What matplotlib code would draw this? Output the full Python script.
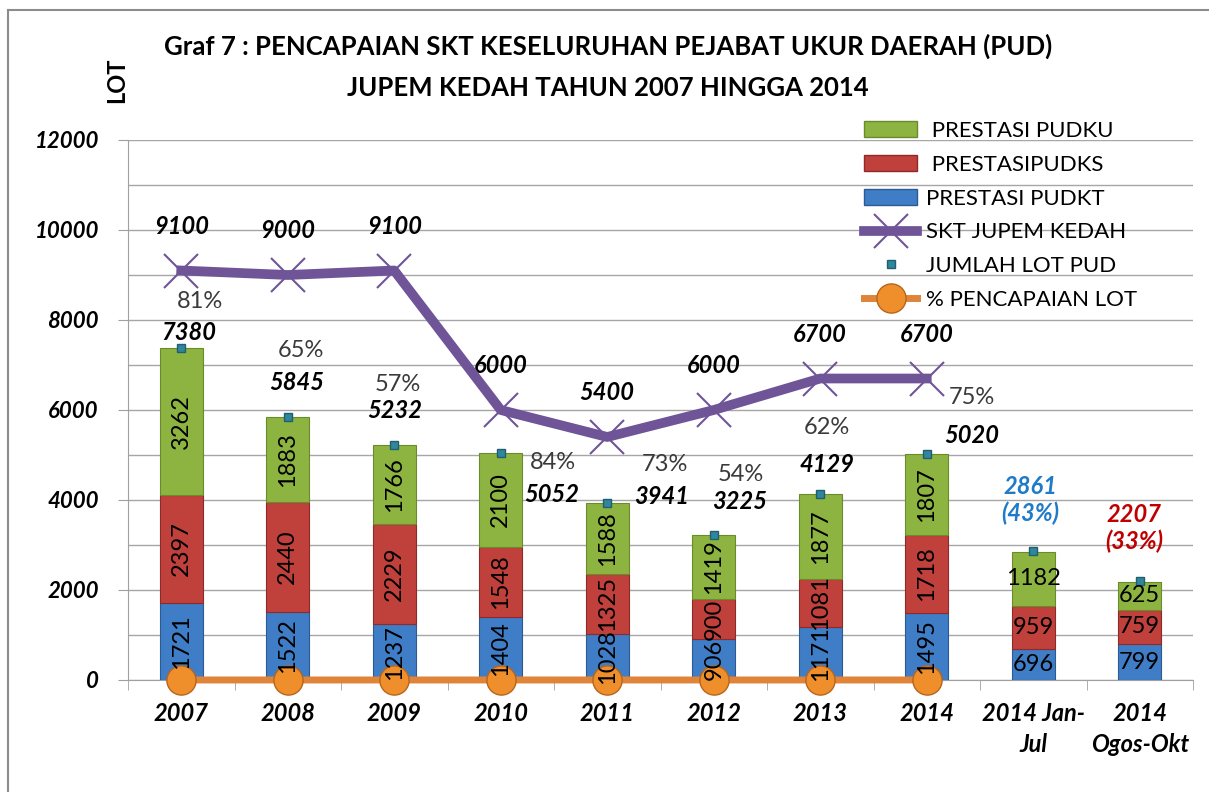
import matplotlib
matplotlib.use('Agg')
import matplotlib.pyplot as plt
import numpy as np
from matplotlib.lines import Line2D
from matplotlib.patches import Patch
from matplotlib.ticker import MultipleLocator

plt.rcParams['font.family'] = ['Lato', 'DejaVu Sans']

# data
categories = ['2007', '2008', '2009', '2010', '2011', '2012', '2013', '2014',
              '2014 Jan-\nJul', '2014\nOgos-Okt']
pudkt = [1721, 1522, 1237, 1404, 1028, 906, 1171, 1495, 696, 799]
pudks = [2397, 2440, 2229, 1548, 1325, 900, 1081, 1718, 959, 759]
pudku = [3262, 1883, 1766, 2100, 1588, 1419, 1877, 1807, 1182, 625]
jumlah = [7380, 5845, 5232, 5052, 3941, 3225, 4129, 5020, 2861, 2207]
skt = [9100, 9000, 9100, 6000, 5400, 6000, 6700, 6700]
pencapaian = [0.81, 0.65, 0.57, 0.84, 0.73, 0.54, 0.62, 0.75]
pct_partial = ['43%', '33%']

# hand-placed label spots (as in the excel original)
jml_dx = [0.07, 0.08, 0.0, 0.48, 0.51, 0.24, 0.06, 0.42, -0.03, -0.05]
jml_dy = [350, 755, 748, -922, 129, 735, 651, 420, 1139, 1173]
pct_pos = [(0.18, 8400), (1.12, 7330), (2.03, 6560), (3.49, 4840),
           (4.54, 4780), (5.25, 4560), (6.06, 5600), (7.42, 6270)]

c_blue, c_red, c_green = '#3F7DC6', '#C0403C', '#8DB440'
c_purple, c_orange, c_teal = '#6F5597', '#E0843A', '#31869B'

fig = plt.figure(figsize=(12.09, 7.92), dpi=100)
ax = fig.add_axes([128/1209, 1-680/792, (1193-128)/1209, (680-140)/792])

x = np.arange(len(categories))
w = 0.4
b12 = np.array(pudkt) + np.array(pudks)
ax.bar(x, pudkt, w, color=c_blue, edgecolor='#2C5A93', lw=0.8, zorder=3)
ax.bar(x, pudks, w, bottom=pudkt, color=c_red, edgecolor='#8E2B28', lw=0.8, zorder=3)
ax.bar(x, pudku, w, bottom=b12, color=c_green, edgecolor='#6A8A2C', lw=0.8, zorder=3)

# segment labels
for i in range(len(categories)):
    bottoms = [0, pudkt[i], b12[i]]
    for vals, b in zip([pudkt, pudks, pudku], bottoms):
        rot = 90 if i < 8 else 0
        ax.text(x[i], b + vals[i]/2, str(vals[i]), rotation=rot, ha='center',
                va='center', fontsize=17, color='black', zorder=7)

ax.plot(x, jumlah, 's', ms=6, color=c_teal, mec='#1F5F70', zorder=5)
ax.plot(x[:8], skt, color=c_purple, lw=7, marker='x', ms=24, mew=1.5,
        solid_joinstyle='round', zorder=4)
ax.plot(x[:8], pencapaian, color=c_orange, lw=5, marker='o', ms=21,
        mfc='#EE8F2C', mec='#B8651C', zorder=6, clip_on=False)

for i, v in enumerate(skt):
    ax.annotate(str(v), (x[i], v), xytext=(0, 32), textcoords='offset points',
                ha='center', va='center', fontsize=17, fontweight='bold',
                style='italic')

for i, v in enumerate(jumlah):
    if i < 8:
        ax.text(x[i] + jml_dx[i], v + jml_dy[i], str(v), ha='center', va='center',
                fontsize=17, fontweight='bold', style='italic')
    else:
        col = '#1F7BC8' if i == 8 else '#C00000'
        ax.text(x[i] + jml_dx[i], v + jml_dy[i], f'{v}\n({pct_partial[i-8]})',
                ha='center', va='center', fontsize=17, fontweight='bold',
                style='italic', color=col, linespacing=1.2)

for (px, py), p in zip(pct_pos, pencapaian):
    ax.text(px, py, f'{round(p*100)}%', ha='center', va='center', fontsize=17,
            color='#3A3A3A')

ax.set_xlim(-0.5, 9.5)
ax.set_ylim(0, 12000)
ax.yaxis.set_major_locator(MultipleLocator(2000))
ax.yaxis.set_minor_locator(MultipleLocator(1000))
ax.grid(True, which='both', axis='y', color='#A6A6A6', lw=1)
ax.set_axisbelow(True)
ax.tick_params(axis='y', which='major', length=7, color='#A0A0A0', pad=14)
ax.tick_params(axis='y', which='minor', length=0)
for t in ax.get_yticklabels():
    t.set_fontweight('bold'); t.set_fontstyle('italic'); t.set_fontsize(16)

ax.set_xticks(x)
ax.set_xticklabels(categories, fontsize=17, fontweight='bold', style='italic',
                   va='top', linespacing=1.4)
ax.set_xticks(np.arange(-0.5, 10, 1), minor=True)
ax.tick_params(axis='x', which='major', length=0, pad=16)
ax.tick_params(axis='x', which='minor', length=7, color='#A0A0A0')
for s in ['top', 'right']:
    ax.spines[s].set_visible(False)
for s in ['left', 'bottom']:
    ax.spines[s].set_color('#A0A0A0')

handles = [
    Patch(facecolor=c_green, edgecolor='#6A8A2C'),
    Patch(facecolor=c_red, edgecolor='#8E2B28'),
    Patch(facecolor=c_blue, edgecolor='#2C5A93'),
    Line2D([], [], color=c_purple, lw=7, marker='x', ms=24, mew=1.5),
    Line2D([], [], ls='none', marker='s', ms=6, color=c_teal, mec='#1F5F70'),
    Line2D([], [], color=c_orange, lw=5, marker='o', ms=21, mfc='#EE8F2C',
           mec='#B8651C'),
]
labels = [' PRESTASI PUDKU', ' PRESTASIPUDKS', 'PRESTASI PUDKT',
          'SKT JUPEM KEDAH', 'JUMLAH LOT PUD', '% PENCAPAIAN LOT']
fig.legend(handles, labels, loc='upper left', bbox_to_anchor=(864/1209, 1-121/792),
           frameon=False, fontsize=16, handlelength=2.4, handletextpad=0.4,
           labelspacing=0.62, borderpad=0, borderaxespad=0)

fig.text(0.503, 1-46/792, 'Graf 7 : PENCAPAIAN SKT KESELURUHAN PEJABAT UKUR DAERAH (PUD)',
         ha='center', va='center', fontsize=18.5, fontweight='bold')
fig.text(0.503, 1-88/792, 'JUPEM KEDAH TAHUN 2007 HINGGA 2014',
         ha='center', va='center', fontsize=18.5, fontweight='bold')
fig.text(117/1209, 1-80/792, 'LOT', rotation=90, ha='center', va='center',
         fontsize=17, fontweight='bold')

# chart frame
fig.add_artist(Line2D([8/1209, 1], [1-10/792, 1-10/792], transform=fig.transFigure,
                      color='#8C8C8C', lw=1.5))
fig.add_artist(Line2D([8/1209, 8/1209], [0, 1-10/792], transform=fig.transFigure,
                      color='#8C8C8C', lw=1.5))

fig.savefig('out.png', dpi=100)
